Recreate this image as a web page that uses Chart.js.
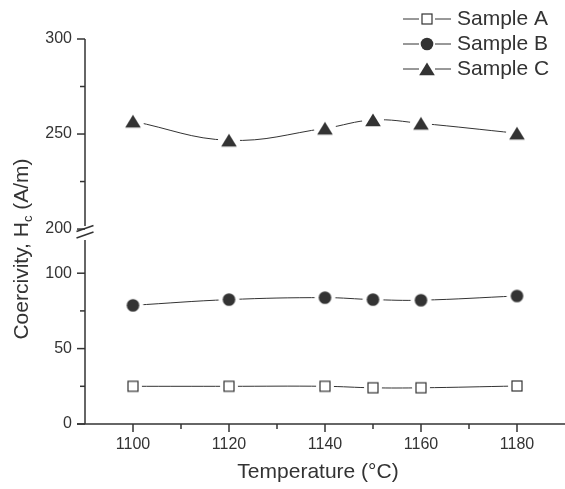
<!DOCTYPE html>
<html>
<head>
<meta charset="utf-8">
<script src="https://cdn.jsdelivr.net/npm/chart.js@4.4.1/dist/chart.umd.min.js"></script>
<style>
  html, body { margin: 0; padding: 0; background: #fff; }
  #wrap { position: relative; width: 565px; height: 489px; }
</style>
</head>
<body>
<div id="wrap"><canvas id="chart" width="565" height="489"></canvas></div>
<script>
// data
const temps = [1100, 1120, 1140, 1150, 1160, 1180];
const sampleA = [25, 25, 25, 24, 24, 25.2];
const sampleB = [78.7, 82.5, 83.8, 82.5, 82.1, 84.9];
const sampleC = [256.7, 246.7, 253, 257.4, 255.6, 250.4];
const seriesNames = ['Sample A', 'Sample B', 'Sample C'];
const seriesMarkers = ['square', 'circle', 'triangle'];

const xTicks = [1100, 1110, 1120, 1130, 1140, 1150, 1160, 1170, 1180];
const lowerTicks = [0, 25, 50, 75, 100];
const upperTicks = [200, 225, 250, 275, 300];

const ink = '#333';
const lineInk = '#333';
const fontFamily = '"Liberation Sans", Arial, Helvetica, sans-serif';

function drawMarker(c, style, x, y) {
    c.save();
    c.fillStyle = ink;
    c.strokeStyle = ink;
    c.lineWidth = 1.2;
    if (style === 'square') {
        c.fillStyle = '#fff';
        c.fillRect(x - 5, y - 5, 10, 10);
        c.strokeRect(x - 5, y - 5, 10, 10);
    } else if (style === 'circle') {
        c.beginPath();
        c.arc(x, y, 6.3, 0, Math.PI * 2);
        c.fill();
    } else {
        c.beginPath();
        c.moveTo(x, y - 6.5);
        c.lineTo(x + 7.8, y + 6.3);
        c.lineTo(x - 7.8, y + 6.3);
        c.closePath();
        c.fill();
    }
    c.restore();
}

// marker with a white halo so the line stops short of it
function markerImage(style, halo) {
    const s = 2 * halo + 2;
    const cv = document.createElement('canvas');
    cv.width = s;
    cv.height = s;
    const c = cv.getContext('2d');
    c.fillStyle = '#fff';
    c.beginPath();
    c.arc(s / 2, s / 2, halo, 0, Math.PI * 2);
    c.fill();
    drawMarker(c, style, s / 2, s / 2);
    return cv;
}

function makeSet(label, values, style, halo, axis) {
    return {
        label: label,
        data: temps.map((t, i) => ({ x: t, y: values[i] })),
        yAxisID: axis,
        borderColor: lineInk,
        borderWidth: 1,
        tension: 0.4,
        pointStyle: markerImage(style, halo),
        pointRadius: 7,
        pointHoverRadius: 7
    };
}

function line(c, x1, y1, x2, y2) {
    c.beginPath();
    c.moveTo(x1, y1);
    c.lineTo(x2, y2);
    c.stroke();
}

// axis lines, major/minor ticks, axis break, titles and legend
const framePlugin = {
    id: 'frame',
    afterDraw(chart) {
        const c = chart.ctx;
        const area = chart.chartArea;
        const xs = chart.scales.x;
        const yl = chart.scales.y;
        const yu = chart.scales.y2;
        const ax = area.left;
        const ay = area.bottom;
        const brk = yu.bottom;

        c.save();
        c.strokeStyle = ink;
        c.lineWidth = 1.5;

        line(c, ax, area.top, ax, brk - 8);
        line(c, ax, brk + 6, ax, ay);
        line(c, ax - 8, ay, area.right, ay);

        // break marks
        line(c, ax - 8.5, brk - 2.5, ax + 8.5, brk - 8.5);
        line(c, ax - 8.5, brk + 4, ax + 8.5, brk - 2);

        upperTicks.forEach(v => {
            const y = yu.getPixelForValue(v);
            line(c, ax - (v % 50 === 0 ? 8 : 5), y, ax, y);
        });
        lowerTicks.forEach(v => {
            const y = yl.getPixelForValue(v);
            line(c, ax - (v % 50 === 0 ? 8 : 5), y, ax, y);
        });
        xTicks.forEach(v => {
            const x = xs.getPixelForValue(v);
            line(c, x, ay, x, ay + (v % 20 === 0 ? 8 : 5));
        });

        // x title
        c.fillStyle = ink;
        c.font = '21px ' + fontFamily;
        c.textAlign = 'center';
        c.textBaseline = 'middle';
        c.fillText('Temperature (\u00B0C)', 318, 472);

        // y title with subscript
        const p1 = 'Coercivity, H';
        const p2 = 'c';
        const p3 = ' (A/m)';
        c.font = '21px ' + fontFamily;
        const w1 = c.measureText(p1).width;
        const w3 = c.measureText(p3).width;
        c.font = '13px ' + fontFamily;
        const w2 = c.measureText(p2).width;
        const total = w1 + w2 + w3;
        c.save();
        c.translate(28, 249);
        c.rotate(-Math.PI / 2);
        c.textAlign = 'left';
        c.textBaseline = 'alphabetic';
        c.font = '21px ' + fontFamily;
        c.fillText(p1, -total / 2, 0);
        c.font = '13px ' + fontFamily;
        c.fillText(p2, -total / 2 + w1, 4);
        c.font = '21px ' + fontFamily;
        c.fillText(p3, -total / 2 + w1 + w2, 0);
        c.restore();

        // legend
        c.lineWidth = 1;
        c.strokeStyle = ink;
        c.font = '21px ' + fontFamily;
        c.textAlign = 'left';
        c.textBaseline = 'middle';
        seriesNames.forEach((name, i) => {
            const y = 19 + i * 25;
            line(c, 403, y, 419, y);
            line(c, 435, y, 451, y);
            drawMarker(c, seriesMarkers[i], 427, y);
            c.fillText(name, 457, y);
        });

        c.restore();
    }
};

const ctx = document.getElementById('chart').getContext('2d');

const tickFont = { family: fontFamily, size: 16 };

const chart = new Chart(ctx, {
    type: 'line',
    data: {
        datasets: [
            makeSet(seriesNames[0], sampleA, 'square', 9, 'y'),
            makeSet(seriesNames[1], sampleB, 'circle', 10.5, 'y'),
            makeSet(seriesNames[2], sampleC, 'triangle', 11, 'y2')
        ]
    },
    options: {
        responsive: false,
        animation: false,
        layout: { autoPadding: false, padding: { top: 39, left: 0, right: 0, bottom: 0 } },
        plugins: {
            legend: { display: false },
            tooltip: { enabled: false }
        },
        scales: {
            x: {
                type: 'linear',
                min: 1090,
                max: 1190,
                afterBuildTicks: s => { s.ticks = xTicks.map(v => ({ value: v })); },
                afterFit: s => { s.height = 65; s.paddingLeft = 0; s.paddingRight = 0; },
                grid: { display: false, drawTicks: false },
                border: { display: false },
                ticks: {
                    autoSkip: false,
                    maxRotation: 0,
                    padding: 11,
                    color: ink,
                    font: tickFont,
                    callback: v => (v % 20 === 0 ? String(v) : '')
                }
            },
            // left stacked axes are laid out in reverse order, so the lower one comes first
            y: {
                type: 'linear',
                position: 'left',
                stack: 'hc',
                stackWeight: 190,
                min: 0,
                max: 126,
                afterBuildTicks: s => { s.ticks = lowerTicks.map(v => ({ value: v })); },
                afterFit: s => { s.width = 85; },
                grid: { display: false, drawTicks: false },
                border: { display: false },
                ticks: {
                    autoSkip: false,
                    padding: 13,
                    color: ink,
                    font: tickFont,
                    callback: v => (v % 50 === 0 ? String(v) : '')
                }
            },
            y2: {
                type: 'linear',
                position: 'left',
                stack: 'hc',
                stackWeight: 195,
                min: 197.4,
                max: 300,
                afterBuildTicks: s => { s.ticks = upperTicks.map(v => ({ value: v })); },
                afterFit: s => { s.width = 85; },
                grid: { display: false, drawTicks: false },
                border: { display: false },
                ticks: {
                    autoSkip: false,
                    padding: 13,
                    color: ink,
                    font: tickFont,
                    callback: v => (v % 50 === 0 ? String(v) : '')
                }
            }
        }
    },
    plugins: [framePlugin]
});
</script>
</body>
</html>
